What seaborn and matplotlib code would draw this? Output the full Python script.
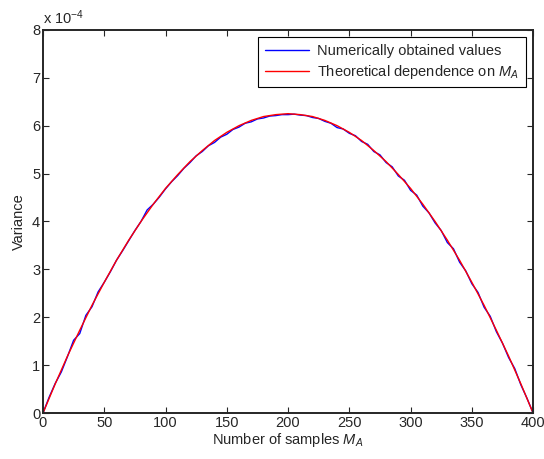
import numpy as np
import pandas as pd
import matplotlib
matplotlib.use("Agg")
import matplotlib.pyplot as plt
import seaborn as sns

# Значения (в единицах 1e-4)
samples_num = list(range(0, 401, 5))
variance_num = [
    0.00, 0.33, 0.62, 0.86, 1.18, 1.52, 1.66, 2.04, 2.22, 2.53,
    2.73, 2.95, 3.19, 3.39, 3.60, 3.81, 4.00, 4.24, 4.36, 4.51,
    4.68, 4.83, 4.96, 5.11, 5.23, 5.37, 5.46, 5.58, 5.65, 5.76,
    5.82, 5.92, 5.97, 6.05, 6.08, 6.14, 6.16, 6.20, 6.21, 6.23,
    6.23, 6.24, 6.22, 6.21, 6.17, 6.15, 6.09, 6.05, 5.96, 5.93,
    5.84, 5.79, 5.67, 5.61, 5.46, 5.39, 5.23, 5.14, 4.95, 4.86,
    4.65, 4.55, 4.32, 4.18, 3.97, 3.81, 3.56, 3.43, 3.15, 2.97,
    2.70, 2.52, 2.21, 2.02, 1.70, 1.46, 1.16, 0.93, 0.59, 0.31,
    0.00,
]

samples_theo = list(range(0, 401, 10))
variance_theo = [
    0.00, 0.61, 1.19, 1.73, 2.25, 2.73, 3.19, 3.61, 4.00, 4.36,
    4.69, 4.98, 5.25, 5.48, 5.69, 5.86, 6.00, 6.11, 6.19, 6.23,
    6.25, 6.23, 6.19, 6.11, 6.00, 5.86, 5.69, 5.48, 5.25, 4.98,
    4.69, 4.36, 4.00, 3.61, 3.19, 2.73, 2.25, 1.73, 1.19, 0.61,
    0.00,
]

x_ticks = [0, 50, 100, 150, 200, 250, 300, 350, 400]
y_ticks = [0, 1, 2, 3, 4, 5, 6, 7, 8]

sns.set_style("ticks")
plt.rcParams["font.family"] = ["Liberation Sans", "DejaVu Sans"]
plt.rcParams["mathtext.fontset"] = "custom"
plt.rcParams["mathtext.rm"] = "Liberation Sans"
plt.rcParams["mathtext.it"] = "Liberation Sans:italic"

fig = plt.figure(figsize=(5.44, 4.59), dpi=100)
ax = fig.add_axes([0.079, 0.100, 0.901, 0.835])

sns.lineplot(x=samples_num, y=variance_num, color="blue", linewidth=1.0,
             label="Numerically obtained values", ax=ax)
sns.lineplot(x=samples_theo, y=variance_theo, color="red", linewidth=1.0,
             label="Theoretical dependence on $M_A$", ax=ax)

ax.set_xlim(0, 400)
ax.set_ylim(0, 8)
ax.set_xticks(x_ticks)
ax.set_yticks(y_ticks)
ax.tick_params(direction="in", top=True, right=True, labelsize=10.5,
               length=4, width=0.8, pad=2)
for s in ax.spines.values():
    s.set_linewidth(1.4)
    s.set_visible(True)

ax.set_xlabel("Number of samples $M_A$", fontsize=10.5, labelpad=1)
ax.set_ylabel("Variance", fontsize=10.5, labelpad=4)
ax.text(0.0, 1.008, r"x 10$^{\mathrm{-4}}$", transform=ax.transAxes,
        fontsize=10.5, ha="left", va="bottom")

leg = ax.legend(loc="upper right", fancybox=False, framealpha=1,
                edgecolor="black", fontsize=10.5, handlelength=3.0,
                handletextpad=0.6, borderaxespad=0.5, borderpad=0.45,
                labelspacing=0.35)
leg.get_frame().set_linewidth(0.8)

fig.savefig("out.png", dpi=100)
